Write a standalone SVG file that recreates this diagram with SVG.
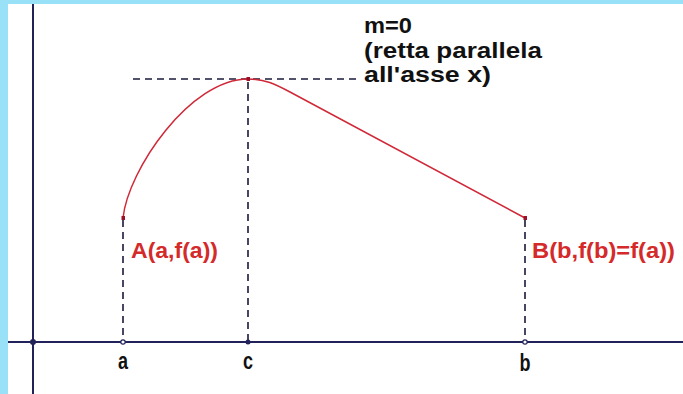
<svg xmlns="http://www.w3.org/2000/svg" width="683" height="394" viewBox="0 0 683 394">
<style>
.axis{stroke:#22225a;stroke-width:2;fill:none}
.dash{stroke:#1a1a3a;stroke-width:1.6;stroke-dasharray:7,5;fill:none}
.curve{stroke:#d02838;stroke-width:1.5;fill:none}
.lbl{font-family:"Liberation Sans",Arial,sans-serif;font-weight:bold;font-size:18px}
.red{fill:#d42a2a}
.blk{fill:#111}
</style>
<rect x="0" y="0" width="683" height="394" fill="#ffffff"/>
<rect x="0" y="0" width="683" height="4" fill="#99e1f6"/>
<rect x="0" y="0" width="8" height="394" fill="#99e1f6"/>
<g id="axes">
<line class="axis" x1="33" y1="4" x2="33" y2="394"/>
<line class="axis" x1="8" y1="342" x2="683" y2="342"/>
<circle cx="33" cy="342" r="3" fill="#22225a"/>
</g>
<g id="connectors">
<line class="dash" x1="133" y1="79" x2="358" y2="79"/>
<line class="dash" x1="123" y1="220" x2="123" y2="340"/>
<line class="dash" x1="248" y1="82" x2="248" y2="340"/>
<line class="dash" x1="525" y1="220" x2="525" y2="340"/>
</g>
<g id="curve">
<path class="curve" d="M123,218 C128,170 190,79 248,79 C265,79 275,84 290,92 L525,218"/>
<rect x="121.5" y="216" width="3.5" height="4" fill="#9a1028"/>
<rect x="246.5" y="77" width="3.5" height="4" fill="#9a1028"/>
<rect x="523.5" y="216" width="3.5" height="4" fill="#9a1028"/>
</g>
<g id="point-a">
<circle cx="123" cy="342" r="2.2" fill="#fff" stroke="#22225a" stroke-width="1.2"/>
<text class="lbl blk" transform="translate(123,369) scale(1,1.3)" text-anchor="middle">a</text>
</g>
<g id="point-c">
<circle cx="248" cy="342" r="2.5" fill="#22225a"/>
<text class="lbl blk" transform="translate(248,369) scale(1,1.3)" text-anchor="middle">c</text>
</g>
<g id="point-b">
<circle cx="525" cy="342" r="2.2" fill="#fff" stroke="#22225a" stroke-width="1.2"/>
<text class="lbl blk" transform="translate(525,371) scale(1,1.3)" text-anchor="middle">b</text>
</g>
<g id="label-A">
<text class="lbl red" transform="translate(131,258) scale(1,1.2)" textLength="87" lengthAdjust="spacingAndGlyphs">A(a,f(a))</text>
</g>
<g id="label-B">
<text class="lbl red" transform="translate(532,258) scale(1,1.2)" textLength="143" lengthAdjust="spacingAndGlyphs">B(b,f(b)=f(a))</text>
</g>
<g id="label-m">
<text class="lbl blk" transform="translate(364,33) scale(1,1.2)" textLength="48" lengthAdjust="spacingAndGlyphs">m=0</text>
<text class="lbl blk" transform="translate(364,58) scale(1,1.2)" textLength="178" lengthAdjust="spacingAndGlyphs">(retta parallela</text>
<text class="lbl blk" transform="translate(364,82) scale(1,1.2)" textLength="127" lengthAdjust="spacingAndGlyphs">all'asse x)</text>
</g>
</svg>
